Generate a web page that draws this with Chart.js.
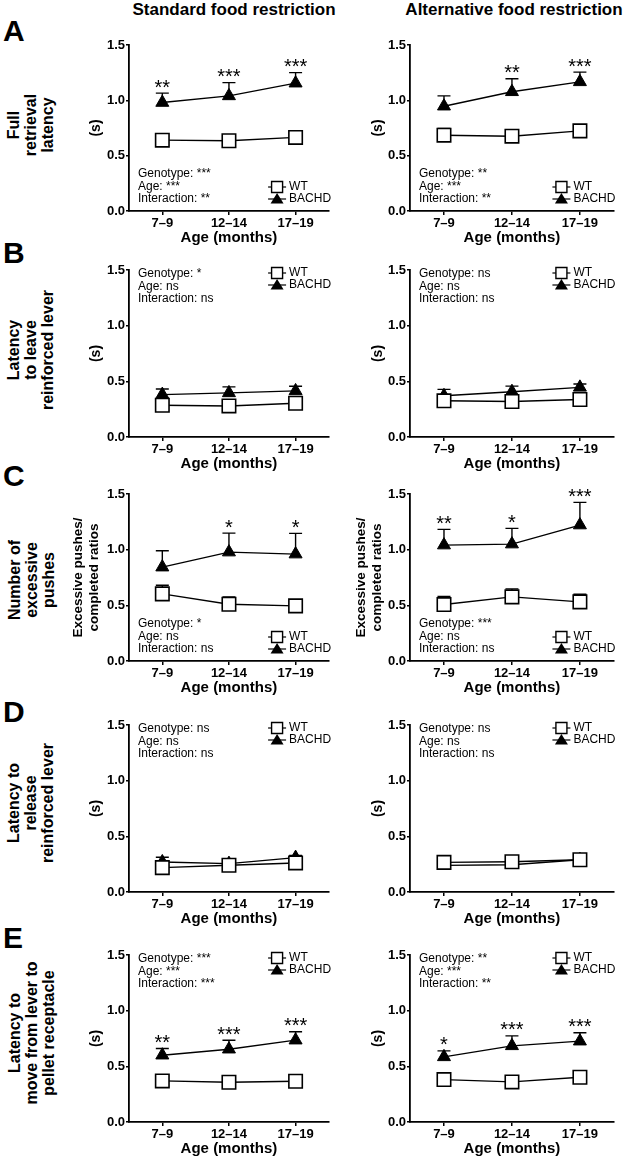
<!DOCTYPE html>
<html>
<head>
<meta charset="utf-8">
<script src="https://cdn.jsdelivr.net/npm/chart.js@4.4.0/dist/chart.umd.min.js"></script>
<style>
  body { margin: 0; width: 625px; height: 1158px; position: relative; overflow: hidden; background: #fff;
         font-family: 'Liberation Sans', Arial, sans-serif; color: #000; }
  canvas { position: absolute; }
  .col-title { position: absolute; top: 0; font-weight: bold; font-size: 17px; line-height: 20px;
               transform: translateX(-50%); white-space: nowrap; }
  .letter { position: absolute; left: 3px; font-weight: bold; font-size: 30px; line-height: 30px; }
  .row-label { position: absolute; font-weight: bold; font-size: 16px; line-height: 17px; text-align: center;
               white-space: nowrap; transform: translate(-50%, -50%) rotate(-90deg); }
</style>
</head>
<body>
<div class="col-title" style="left:234px">Standard food restriction</div>
<div class="col-title" style="left:514px">Alternative food restriction</div>

<div class="letter" style="top:16px">A</div>
<div class="letter" style="top:238px">B</div>
<div class="letter" style="top:461px">C</div>
<div class="letter" style="top:697px">D</div>
<div class="letter" style="top:923px">E</div>

<div class="row-label" style="left:30px;top:125px">Full<br>retrieval<br>latency</div>
<div class="row-label" style="left:30px;top:350px">Latency<br>to leave<br>reinforced lever</div>
<div class="row-label" style="left:31px;top:580px">Number of<br>excessive<br>pushes</div>
<div class="row-label" style="left:30px;top:803px">Latency to<br>release<br>reinforced lever</div>
<div class="row-label" style="left:31px;top:1033px">Latency to<br>move from lever to<br>pellet receptacle</div>

<script>
const ageGroups = ['7–9', '12–14', '17–19'];
const yTickValues = [0, 0.5, 1.0, 1.5];

// A - full retrieval latency
const fullStdWT = [0.64, 0.635, 0.665];
const fullStdWTErr = [0.02, 0.02, 0.025];
const fullStdBACHD = [0.98, 1.04, 1.155];
const fullStdBACHDErr = [0.085, 0.12, 0.095];
const fullStdStars = ['**', '***', '***'];
const fullStdStats = ['Genotype: ***', 'Age: ***', 'Interaction: **'];

const fullAltWT = [0.685, 0.676, 0.724];
const fullAltWTErr = [0.06, 0.048, 0.05];
const fullAltBACHD = [0.947, 1.077, 1.167];
const fullAltBACHDErr = [0.093, 0.118, 0.088];
const fullAltStars = ['', '**', '***'];
const fullAltStats = ['Genotype: **', 'Age: ***', 'Interaction: **'];

// B - latency to leave reinforced lever
const leaveStdWT = [0.285, 0.279, 0.303];
const leaveStdWTErr = [0.02, 0.02, 0.02];
const leaveStdBACHD = [0.381, 0.396, 0.414];
const leaveStdBACHDErr = [0.05, 0.054, 0.042];
const leaveStdStars = ['', '', ''];
const leaveStdStats = ['Genotype: *', 'Age: ns', 'Interaction: ns'];

const leaveAltWT = [0.325, 0.319, 0.337];
const leaveAltWTErr = [0.02, 0.02, 0.02];
const leaveAltBACHD = [0.37, 0.407, 0.446];
const leaveAltBACHDErr = [0.058, 0.05, 0.03];
const leaveAltStars = ['', '', ''];
const leaveAltStats = ['Genotype: ns', 'Age: ns', 'Interaction: ns'];

// C - excessive pushes / completed ratios
const pushStdWT = [0.603, 0.51, 0.495];
const pushStdWTErr = [0.078, 0.066, 0.051];
const pushStdBACHD = [0.843, 0.978, 0.96];
const pushStdBACHDErr = [0.147, 0.171, 0.186];
const pushStdStars = ['', '*', '*'];
const pushStdStats = ['Genotype: *', 'Age: ns', 'Interaction: ns'];

const pushAltWT = [0.507, 0.576, 0.531];
const pushAltWTErr = [0.072, 0.072, 0.069];
const pushAltBACHD = [1.041, 1.05, 1.221];
const pushAltBACHDErr = [0.141, 0.141, 0.204];
const pushAltStars = ['**', '*', '***'];
const pushAltStats = ['Genotype: ***', 'Age: ns', 'Interaction: ns'];

// D - latency to release reinforced lever
const releaseStdWT = [0.219, 0.24, 0.261];
const releaseStdWTErr = [0.02, 0.02, 0.02];
const releaseStdBACHD = [0.27, 0.255, 0.309];
const releaseStdBACHDErr = [0.042, 0.02, 0.02];
const releaseStdStars = ['', '', ''];
const releaseStdStats = ['Genotype: ns', 'Age: ns', 'Interaction: ns'];

const releaseAltWT = [0.266, 0.272, 0.29];
const releaseAltWTErr = [0.02, 0.02, 0.02];
const releaseAltBACHD = [0.239, 0.245, 0.29];
const releaseAltBACHDErr = [0.02, 0.02, 0.02];
const releaseAltStars = ['', '', ''];
const releaseAltStats = ['Genotype: ns', 'Age: ns', 'Interaction: ns'];

// E - latency to move from lever to pellet receptacle
const moveStdWT = [0.369, 0.357, 0.366];
const moveStdWTErr = [0.02, 0.02, 0.02];
const moveStdBACHD = [0.6, 0.654, 0.735];
const moveStdBACHDErr = [0.06, 0.08, 0.075];
const moveStdStars = ['**', '***', '***'];
const moveStdStats = ['Genotype: ***', 'Age: ***', 'Interaction: ***'];

const moveAltWT = [0.381, 0.36, 0.402];
const moveAltWTErr = [0.02, 0.02, 0.02];
const moveAltBACHD = [0.585, 0.684, 0.726];
const moveAltBACHDErr = [0.054, 0.09, 0.075];
const moveAltStars = ['*', '***', '***'];
const moveAltStats = ['Genotype: **', 'Age: ***', 'Interaction: **'];

const FONT = "'Liberation Sans', Arial, sans-serif";
Chart.defaults.font.family = FONT;
Chart.defaults.color = '#000';

// pixel rows: top of the 1.5 tick and the 0.0 axis
const rowBoxes = [
    { top: 45, zero: 211 },
    { top: 270, zero: 437 },
    { top: 494, zero: 661 },
    { top: 725, zero: 892 },
    { top: 955, zero: 1122 }
];

// error bars, stars, stats text and the small legend
const panelExtras = {
    id: 'panelExtras',
    beforeDatasetsDraw(chart) {
        const ctx = chart.ctx;
        const x = chart.scales.x, y = chart.scales.y;
        ctx.save();
        ctx.strokeStyle = '#000';
        ctx.lineWidth = 1.4;
        chart.data.datasets.forEach(function (ds) {
            ds.data.forEach(function (v, i) {
                const px = x.getPixelForValue(i);
                const py = y.getPixelForValue(v);
                const pt = y.getPixelForValue(v + ds.sem[i]);
                ctx.beginPath();
                ctx.moveTo(px, py);
                ctx.lineTo(px, pt);
                ctx.moveTo(px - 6.5, pt);
                ctx.lineTo(px + 6.5, pt);
                ctx.stroke();
            });
        });
        ctx.restore();
    },
    afterDatasetsDraw(chart, args, o) {
        const ctx = chart.ctx;
        const a = chart.chartArea;
        const x = chart.scales.x, y = chart.scales.y;
        const bachd = chart.data.datasets[1];
        ctx.save();
        ctx.fillStyle = '#000';
        ctx.strokeStyle = '#000';

        ctx.font = '20px ' + FONT;
        ctx.textAlign = 'center';
        ctx.textBaseline = 'alphabetic';
        o.stars.forEach(function (s, i) {
            if (!s) return;
            const top = y.getPixelForValue(bachd.data[i] + bachd.sem[i]);
            ctx.fillText(s, x.getPixelForValue(i), top + 0.5);
        });

        ctx.font = '12px ' + FONT;
        ctx.textAlign = 'left';
        ctx.textBaseline = 'middle';
        const sy = o.statsAt === 'top' ? a.top + 4 : a.bottom - 37;
        o.stats.forEach(function (t, k) {
            ctx.fillText(t, a.left + 9, sy + k * 12.5);
        });

        const lastX = x.getPixelForValue(ageGroups.length - 1);
        const ly = o.legendAt === 'top' ? a.top + 3 : a.bottom - 24;
        const mx = lastX - 18.5;
        ['WT', 'BACHD'].forEach(function (name, k) {
            const yy = ly + k * 12;
            ctx.lineWidth = 1.2;
            ctx.beginPath();
            ctx.moveTo(mx - 9, yy);
            ctx.lineTo(mx + 9, yy);
            ctx.stroke();
            ctx.lineWidth = 1.4;
            ctx.beginPath();
            if (k === 0) {
                ctx.rect(mx - 5.5, yy - 5.5, 11, 11);
                ctx.fillStyle = '#fff';
                ctx.fill();
                ctx.stroke();
            } else {
                ctx.moveTo(mx, yy - 6);
                ctx.lineTo(mx + 6.5, yy + 4.5);
                ctx.lineTo(mx - 6.5, yy + 4.5);
                ctx.closePath();
                ctx.fillStyle = '#000';
                ctx.fill();
            }
            ctx.fillStyle = '#000';
            ctx.fillText(name, lastX - 6.5, yy);
        });
        ctx.restore();
    }
};

function addPanel(row, col, cfg) {
    const box = rowBoxes[row];
    const left = col === 0 ? 60 : 340;
    const width = col === 0 ? 280 : 285;
    const height = 20 + (box.zero - box.top) + 40;
    const canvas = document.createElement('canvas');
    canvas.width = width;
    canvas.height = height;
    canvas.style.left = left + 'px';
    canvas.style.top = (box.top - 20) + 'px';
    canvas.style.width = width + 'px';
    canvas.style.height = height + 'px';
    document.body.appendChild(canvas);

    const multi = Array.isArray(cfg.yTitle);

    new Chart(canvas, {
        type: 'line',
        data: {
            labels: ageGroups,
            datasets: [{
                label: 'WT',
                data: cfg.wt,
                sem: cfg.wtErr,
                borderColor: '#000',
                borderWidth: 1.4,
                pointStyle: 'rect',
                pointRadius: 9.5,
                pointBorderWidth: 1.6,
                pointBackgroundColor: '#fff',
                pointBorderColor: '#000',
                fill: false,
                tension: 0
            }, {
                label: 'BACHD',
                data: cfg.bachd,
                sem: cfg.bachdErr,
                borderColor: '#000',
                borderWidth: 1.4,
                pointStyle: 'triangle',
                pointRadius: 7.5,
                pointBorderWidth: 1,
                pointBackgroundColor: '#000',
                pointBorderColor: '#000',
                fill: false,
                tension: 0
            }]
        },
        options: {
            responsive: false,
            animation: false,
            events: [],
            layout: { padding: { top: 20, right: col === 0 ? 4 : 9, bottom: 0, left: 0 } },
            plugins: {
                legend: { display: false },
                tooltip: { enabled: false },
                panelExtras: {
                    stars: cfg.stars,
                    stats: cfg.stats,
                    statsAt: cfg.statsAt,
                    legendAt: cfg.legendAt
                }
            },
            scales: {
                x: {
                    type: 'category',
                    offset: true,
                    grid: { display: true, drawOnChartArea: false, drawTicks: true, tickLength: 4, color: '#000', lineWidth: 1.5 },
                    border: { display: true, color: '#000', width: 1.8 },
                    ticks: { color: '#000', font: { size: 13, weight: 'bold' }, padding: 1, maxRotation: 0, autoSkip: false },
                    title: { display: true, text: 'Age (months)', color: '#000', font: { size: 15, weight: 'bold' }, padding: { top: 0, bottom: 4 } },
                    afterFit: function (s) { s.height = 40; }
                },
                y: {
                    min: 0,
                    max: 1.5,
                    afterBuildTicks: function (s) { s.ticks = yTickValues.map(function (v) { return { value: v }; }); },
                    grid: { display: true, drawOnChartArea: false, drawTicks: true, tickLength: 3, color: '#000', lineWidth: 1.5 },
                    border: { display: true, color: '#000', width: 1.8 },
                    ticks: {
                        color: '#000', font: { size: 13, weight: 'bold' }, padding: 1,
                        callback: function (v) { return Number(v).toFixed(1); }
                    },
                    title: {
                        display: true,
                        text: cfg.yTitle,
                        color: '#000',
                        font: { size: multi ? 13.5 : 14, weight: 'bold', lineHeight: multi ? 1.15 : 1.2 },
                        padding: { top: multi ? (col === 0 ? 11 : 14) : (col === 0 ? 28 : 30), bottom: 0 }
                    },
                    afterFit: function (s) { s.width = col === 0 ? 69 : 70; }
                }
            }
        },
        plugins: [panelExtras]
    });
}

const ratioTitle = ['Excessive pushes/', 'completed ratios'];

addPanel(0, 0, { wt: fullStdWT, wtErr: fullStdWTErr, bachd: fullStdBACHD, bachdErr: fullStdBACHDErr, stars: fullStdStars, stats: fullStdStats, statsAt: 'bottom', legendAt: 'bottom', yTitle: '(s)' });
addPanel(0, 1, { wt: fullAltWT, wtErr: fullAltWTErr, bachd: fullAltBACHD, bachdErr: fullAltBACHDErr, stars: fullAltStars, stats: fullAltStats, statsAt: 'bottom', legendAt: 'bottom', yTitle: '(s)' });
addPanel(1, 0, { wt: leaveStdWT, wtErr: leaveStdWTErr, bachd: leaveStdBACHD, bachdErr: leaveStdBACHDErr, stars: leaveStdStars, stats: leaveStdStats, statsAt: 'top', legendAt: 'top', yTitle: '(s)' });
addPanel(1, 1, { wt: leaveAltWT, wtErr: leaveAltWTErr, bachd: leaveAltBACHD, bachdErr: leaveAltBACHDErr, stars: leaveAltStars, stats: leaveAltStats, statsAt: 'top', legendAt: 'top', yTitle: '(s)' });
addPanel(2, 0, { wt: pushStdWT, wtErr: pushStdWTErr, bachd: pushStdBACHD, bachdErr: pushStdBACHDErr, stars: pushStdStars, stats: pushStdStats, statsAt: 'bottom', legendAt: 'bottom', yTitle: ratioTitle });
addPanel(2, 1, { wt: pushAltWT, wtErr: pushAltWTErr, bachd: pushAltBACHD, bachdErr: pushAltBACHDErr, stars: pushAltStars, stats: pushAltStats, statsAt: 'bottom', legendAt: 'bottom', yTitle: ratioTitle });
addPanel(3, 0, { wt: releaseStdWT, wtErr: releaseStdWTErr, bachd: releaseStdBACHD, bachdErr: releaseStdBACHDErr, stars: releaseStdStars, stats: releaseStdStats, statsAt: 'top', legendAt: 'top', yTitle: '(s)' });
addPanel(3, 1, { wt: releaseAltWT, wtErr: releaseAltWTErr, bachd: releaseAltBACHD, bachdErr: releaseAltBACHDErr, stars: releaseAltStars, stats: releaseAltStats, statsAt: 'top', legendAt: 'top', yTitle: '(s)' });
addPanel(4, 0, { wt: moveStdWT, wtErr: moveStdWTErr, bachd: moveStdBACHD, bachdErr: moveStdBACHDErr, stars: moveStdStars, stats: moveStdStats, statsAt: 'top', legendAt: 'top', yTitle: '(s)' });
addPanel(4, 1, { wt: moveAltWT, wtErr: moveAltWTErr, bachd: moveAltBACHD, bachdErr: moveAltBACHDErr, stars: moveAltStars, stats: moveAltStats, statsAt: 'top', legendAt: 'top', yTitle: '(s)' });
</script>
</body>
</html>
